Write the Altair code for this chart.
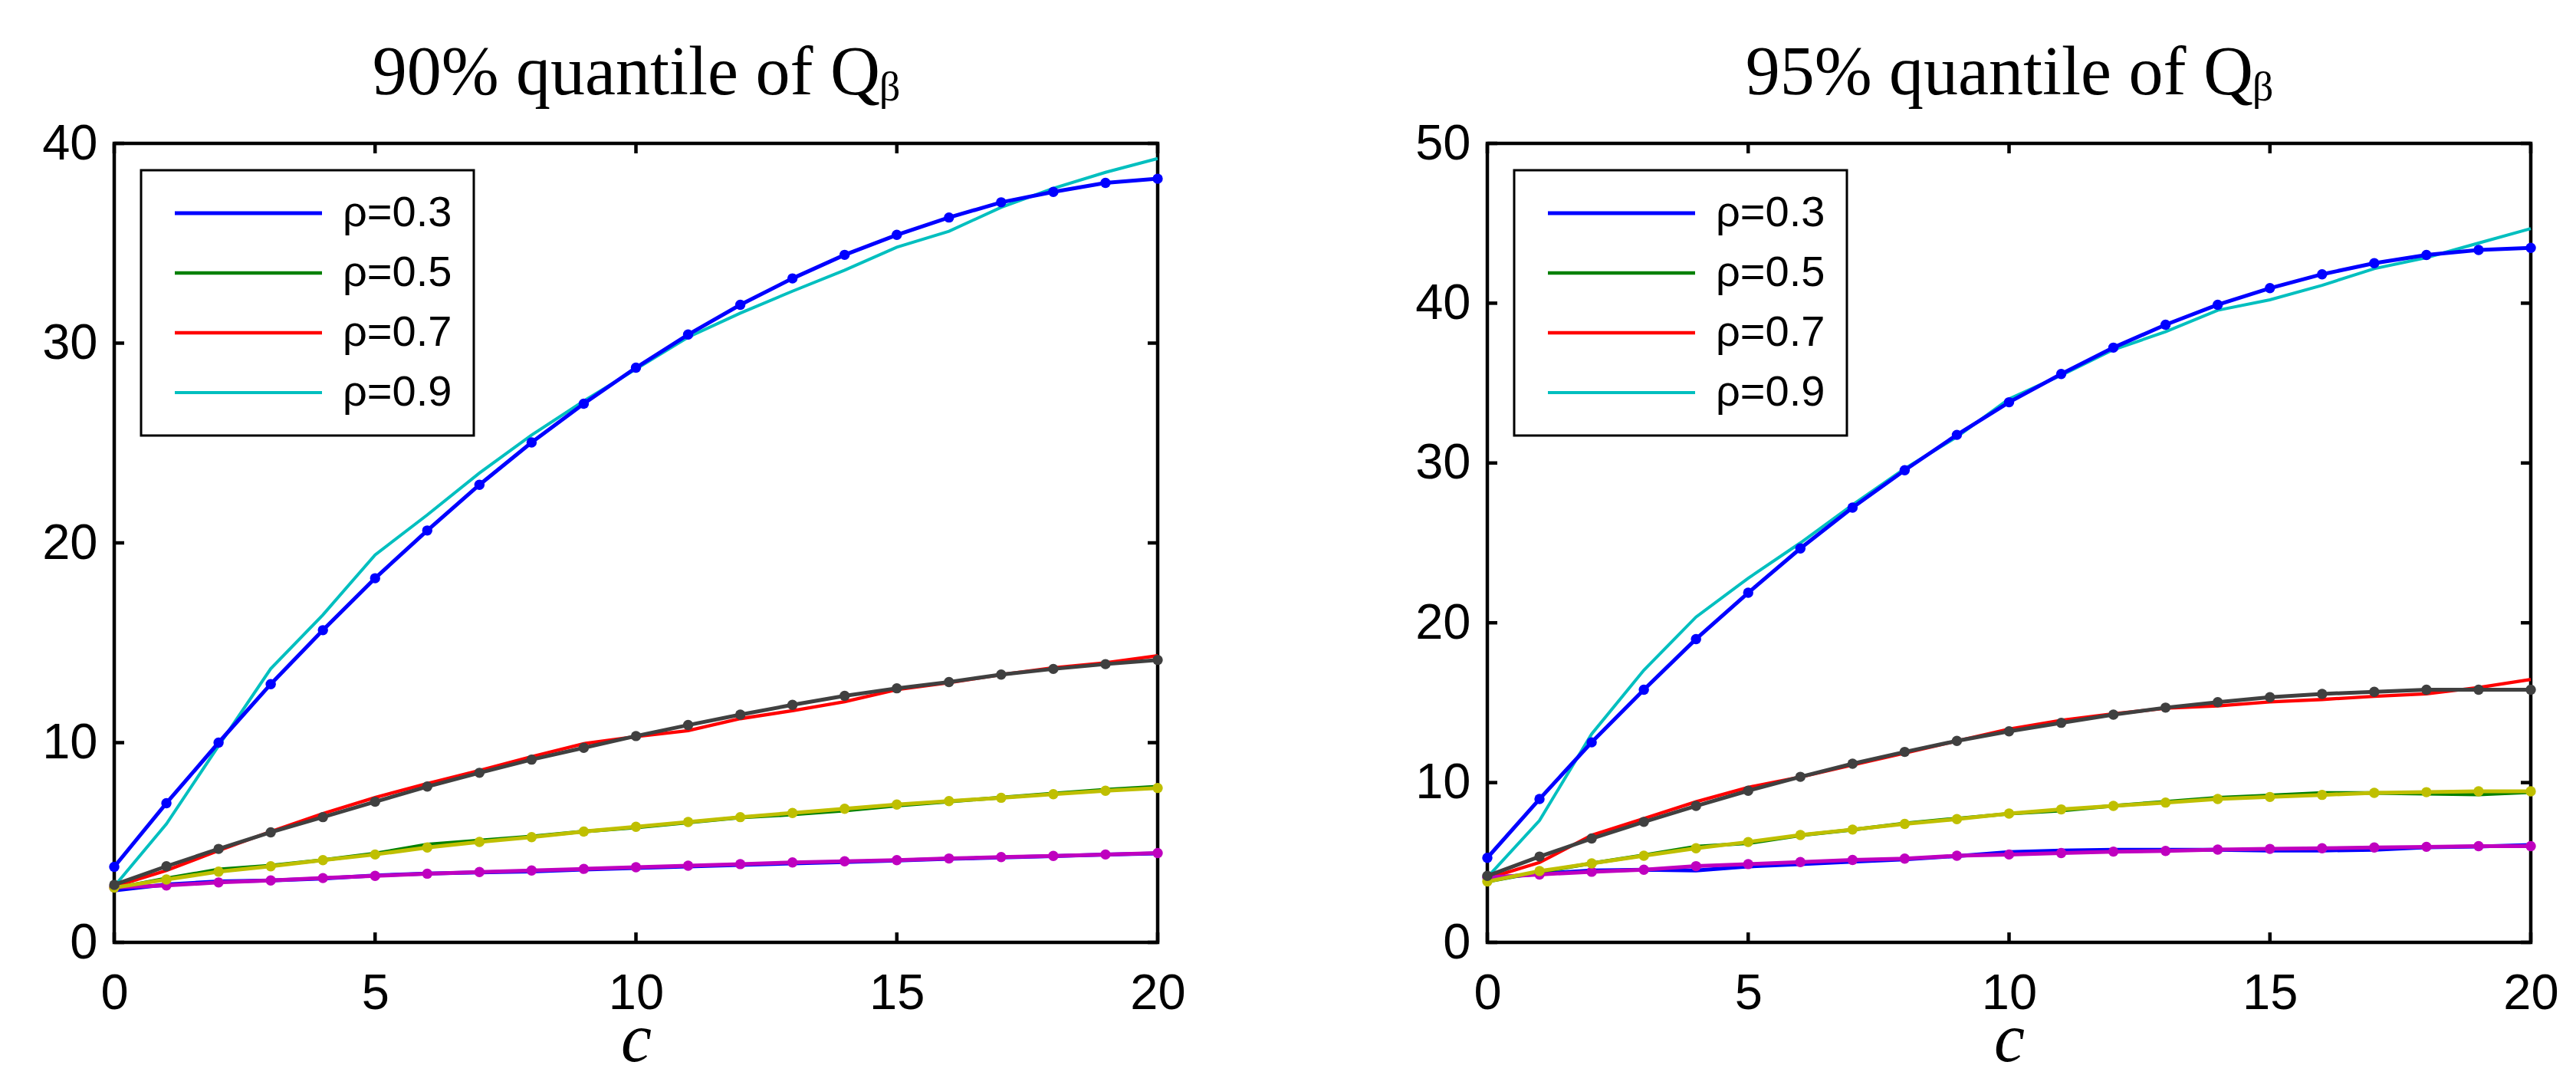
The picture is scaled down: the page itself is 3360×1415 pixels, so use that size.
import altair as alt
import pandas as pd

# ---------------- data ----------------
c_vals = list(range(21))

sim_names = ["ρ=0.3", "ρ=0.5", "ρ=0.7", "ρ=0.9"]
sim_colors = ["#0000ff", "#008000", "#ff0000", "#00bfbf"]
sim_widths = [5.0, 4.0, 4.0, 4.5]

th_names = ["th 0.3", "th 0.5", "th 0.7", "th 0.9"]
th_colors = ["#bf00bf", "#bfbf00", "#404040", "#0000ff"]

x_ticks = [0, 5, 10, 15, 20]
y_ticks_90 = [0, 10, 20, 30, 40]
y_ticks_95 = [0, 10, 20, 30, 40, 50]

# 90% quantile panel - simulated (solid lines)
q90_sim_03 = [2.6, 2.9, 3.05, 3.1, 3.2, 3.35, 3.45, 3.5, 3.55, 3.65, 3.72, 3.8, 3.88, 3.95, 4.02, 4.1, 4.18, 4.25, 4.32, 4.4, 4.45]
q90_sim_05 = [2.7, 3.2, 3.65, 3.85, 4.12, 4.45, 4.9, 5.1, 5.3, 5.55, 5.75, 6.0, 6.25, 6.4, 6.6, 6.85, 7.05, 7.25, 7.45, 7.65, 7.8]
q90_sim_07 = [2.8, 3.6, 4.6, 5.55, 6.45, 7.25, 7.95, 8.6, 9.3, 9.95, 10.3, 10.6, 11.2, 11.6, 12.05, 12.65, 13.0, 13.4, 13.75, 14.0, 14.35]
q90_sim_09 = [2.8, 5.93, 9.84, 13.7, 16.4, 19.4, 21.4, 23.5, 25.4, 27.1, 28.7, 30.3, 31.5, 32.6, 33.65, 34.8, 35.6, 36.8, 37.75, 38.55, 39.24]
# 90% quantile panel - dotted lines
q90_th_03 = [2.75, 2.85, 3.0, 3.1, 3.22, 3.33, 3.44, 3.52, 3.6, 3.68, 3.76, 3.84, 3.92, 4.0, 4.06, 4.12, 4.2, 4.27, 4.33, 4.4, 4.47]
q90_th_05 = [2.74, 3.15, 3.54, 3.81, 4.12, 4.40, 4.75, 5.03, 5.27, 5.55, 5.79, 6.03, 6.27, 6.48, 6.69, 6.90, 7.07, 7.24, 7.42, 7.59, 7.73]
q90_th_07 = [2.88, 3.81, 4.68, 5.51, 6.27, 7.04, 7.80, 8.49, 9.15, 9.74, 10.33, 10.88, 11.40, 11.89, 12.34, 12.72, 13.03, 13.41, 13.69, 13.93, 14.14]
q90_th_09 = [3.78, 6.97, 10.0, 12.93, 15.63, 18.23, 20.62, 22.91, 25.03, 26.97, 28.77, 30.43, 31.92, 33.24, 34.42, 35.42, 36.29, 37.05, 37.57, 38.02, 38.23]

# 95% quantile panel - simulated (solid lines)
q95_sim_03 = [4.0, 4.3, 4.5, 4.55, 4.5, 4.75, 4.9, 5.05, 5.2, 5.4, 5.65, 5.75, 5.8, 5.8, 5.8, 5.75, 5.75, 5.8, 5.95, 6.0, 6.1]
q95_sim_05 = [3.8, 4.4, 4.95, 5.45, 6.0, 6.2, 6.7, 7.05, 7.45, 7.75, 8.05, 8.25, 8.55, 8.8, 9.05, 9.2, 9.35, 9.35, 9.3, 9.25, 9.4]
q95_sim_07 = [4.0, 5.0, 6.7, 7.75, 8.8, 9.7, 10.35, 11.1, 11.85, 12.6, 13.35, 13.9, 14.3, 14.65, 14.8, 15.05, 15.2, 15.4, 15.55, 15.95, 16.45]
q95_sim_09 = [4.07, 7.63, 13.04, 17.03, 20.36, 22.79, 25.0, 27.38, 29.64, 31.63, 34.01, 35.49, 37.09, 38.21, 39.56, 40.21, 41.12, 42.16, 42.85, 43.76, 44.67]
# 95% quantile panel - dotted lines
q95_th_03 = [4.07, 4.25, 4.42, 4.55, 4.77, 4.90, 5.03, 5.16, 5.24, 5.42, 5.50, 5.59, 5.68, 5.72, 5.81, 5.85, 5.89, 5.94, 5.98, 6.02, 6.02]
q95_th_05 = [3.81, 4.46, 4.94, 5.42, 5.89, 6.28, 6.72, 7.06, 7.41, 7.71, 8.06, 8.32, 8.54, 8.75, 8.97, 9.10, 9.23, 9.36, 9.40, 9.45, 9.45]
q95_th_07 = [4.16, 5.37, 6.50, 7.54, 8.54, 9.49, 10.36, 11.18, 11.92, 12.61, 13.21, 13.74, 14.25, 14.69, 15.03, 15.34, 15.55, 15.68, 15.81, 15.81, 15.81]
q95_th_09 = [5.29, 8.97, 12.52, 15.81, 18.98, 21.88, 24.65, 27.21, 29.55, 31.76, 33.80, 35.57, 37.22, 38.65, 39.90, 40.94, 41.81, 42.50, 43.02, 43.33, 43.46]

# ---------------- layout constants ----------------
W = 1361
H = 1042
TICK = 13
FRAME = 4.5
LABEL_FONT = "Liberation Sans"
SERIF = "Liberation Serif"


def long_df(series_lists, names):
    rows = []
    for name, vals in zip(names, series_lists):
        for cv, v in zip(c_vals, vals):
            rows.append({"c": cv, "v": v, "series": name})
    return pd.DataFrame(rows)


def panel(title, sims, ths, yticks, ymax):
    df_sim = long_df(sims, sim_names)
    df_th = long_df(ths, th_names)
    xs = alt.Scale(domain=[0, 20], nice=False, zero=False)
    ys = alt.Scale(domain=[0, ymax], nice=False, zero=False)

    x_axis = alt.Axis(values=x_ticks, format="d", ticks=False, domain=False, grid=False,
                      labelFlush=False, labelOverlap=False,
                      labelPadding=35, labelFontSize=65, labelFont=LABEL_FONT,
                      labelColor="black", title="c", titleFont=SERIF,
                      titleFontStyle="italic", titleFontWeight="normal",
                      titleFontSize=90, titleColor="black",
                      titleBaseline="alphabetic", titlePadding=55)
    y_axis = alt.Axis(values=yticks, format="d", ticks=False, domain=False, grid=False,
                      labelFlush=False, labelOverlap=False,
                      labelPadding=22, labelFontSize=65, labelFont=LABEL_FONT,
                      labelColor="black", title=None)

    legend = alt.Legend(orient="top-left", offset=35, padding=28,
                        strokeColor="black", fillColor="white",
                        symbolType="M-0.5,0H7.5", symbolSize=2304,
                        symbolStrokeWidth=4.5, labelFontSize=56,
                        labelFont=LABEL_FONT, labelColor="black",
                        labelOffset=179, rowPadding=22, title=None)

    solid = alt.Chart(df_sim).mark_line().encode(
        x=alt.X("c:Q", scale=xs, axis=x_axis),
        y=alt.Y("v:Q", scale=ys, axis=y_axis),
        color=alt.Color("series:N", scale=alt.Scale(domain=sim_names, range=sim_colors), legend=legend),
        strokeWidth=alt.StrokeWidth("series:N", scale=alt.Scale(domain=sim_names, range=sim_widths), legend=None),
        order=alt.Order("c:Q"),
    )
    th_color = alt.Color("series:N", scale=alt.Scale(domain=th_names, range=th_colors), legend=None)
    th_line = alt.Chart(df_th).mark_line(strokeWidth=5).encode(
        x=alt.X("c:Q", scale=xs),
        y=alt.Y("v:Q", scale=ys),
        color=th_color,
        order=alt.Order("c:Q"),
    )
    th_pts = alt.Chart(df_th).mark_circle(size=180, opacity=1).encode(
        x=alt.X("c:Q", scale=xs),
        y=alt.Y("v:Q", scale=ys),
        color=th_color,
    )

    xt = pd.DataFrame({"c": x_ticks})
    yt = pd.DataFrame({"v": yticks})
    tick_style = dict(color="black", strokeWidth=FRAME)
    xt_bottom = alt.Chart(xt).mark_rule(**tick_style).encode(
        x=alt.X("c:Q", scale=xs), y=alt.value(H), y2=alt.value(H - TICK))
    xt_top = alt.Chart(xt).mark_rule(**tick_style).encode(
        x=alt.X("c:Q", scale=xs), y=alt.value(0), y2=alt.value(TICK))
    yt_left = alt.Chart(yt).mark_rule(**tick_style).encode(
        y=alt.Y("v:Q", scale=ys), x=alt.value(0), x2=alt.value(TICK))
    yt_right = alt.Chart(yt).mark_rule(**tick_style).encode(
        y=alt.Y("v:Q", scale=ys), x=alt.value(W), x2=alt.value(W - TICK))

    return alt.layer(solid, th_line, th_pts, xt_bottom, xt_top, yt_left, yt_right).resolve_scale(
        color="independent", strokeWidth="independent"
    ).properties(
        width=W, height=H,
        title=alt.TitleParams(text=title, font=SERIF, fontSize=90, fontWeight="normal",
                              color="black", anchor="middle", baseline="alphabetic",
                              frame="group", offset=-58),
    )


left = panel("90% quantile of Qᵦ",
             [q90_sim_03, q90_sim_05, q90_sim_07, q90_sim_09],
             [q90_th_03, q90_th_05, q90_th_07, q90_th_09], y_ticks_90, 40)
right = panel("95% quantile of Qᵦ",
              [q95_sim_03, q95_sim_05, q95_sim_07, q95_sim_09],
              [q95_th_03, q95_th_05, q95_th_07, q95_th_09], y_ticks_95, 50)

chart = alt.hconcat(left, right, spacing=430, bounds="flush").properties(
    padding={"left": 44, "top": 40, "right": 0, "bottom": 0},
    background="white",
).configure_view(stroke="black", strokeWidth=FRAME).configure_legend(
    strokeWidth=3
)

chart.save("out.html", embed_options={"renderer": "svg", "actions": False})
